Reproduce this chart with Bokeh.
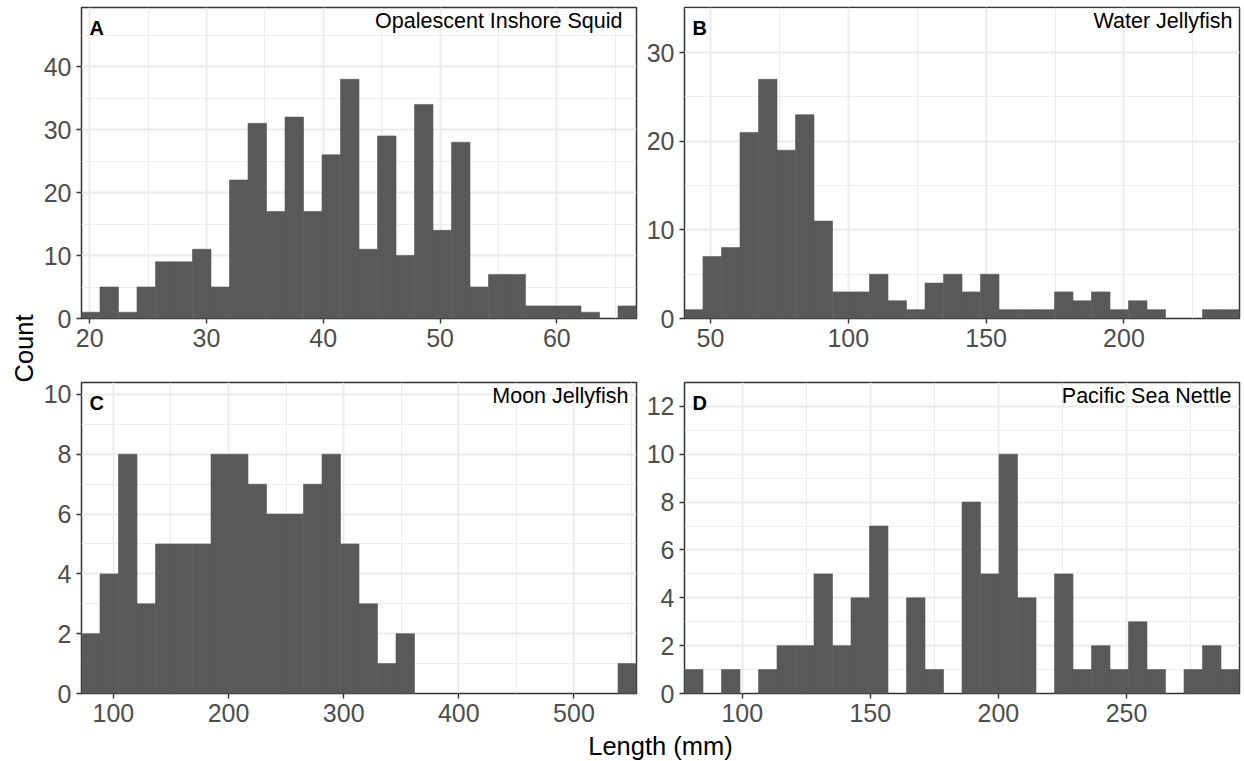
import numpy as np
from math import pi
from bokeh.plotting import figure
from bokeh.layouts import row, column
from bokeh.models import Range1d, FixedTicker, Label
from bokeh.embed import file_html
from bokeh.resources import INLINE

# ---------------- data ----------------
squid_counts = [1, 5, 1, 5, 9, 9, 11, 5, 22, 31, 17, 32, 17, 26, 38,
                11, 29, 10, 34, 14, 28, 5, 7, 7, 2, 2, 2, 1, 0, 2]
squid_range = (19.30, 66.82)

water_counts = [1, 7, 8, 21, 27, 19, 23, 11, 3, 3, 5, 2, 1, 4, 5,
                3, 5, 1, 1, 1, 3, 2, 3, 1, 2, 1, 0, 0, 1, 1]
water_range = (40.6, 241.9)

moon_counts = [2, 4, 8, 3, 5, 5, 5, 8, 8, 7, 6, 6, 7, 8, 5,
               3, 1, 2, 0, 0, 0, 0, 0, 0, 0, 0, 0, 0, 0, 1]
moon_range = (72.3, 554.3)

nettle_counts = [1, 0, 1, 0, 1, 2, 2, 5, 2, 4, 7, 0, 4, 1, 0,
                 8, 5, 10, 4, 0, 5, 1, 2, 1, 3, 1, 0, 1, 2, 1]
nettle_range = (77.46, 294.1)

panel_letters = ["A", "B", "C", "D"]
panel_titles = ["Opalescent Inshore Squid", "Water Jellyfish",
                "Moon Jellyfish", "Pacific Sea Nettle"]

x_major = [[20, 30, 40, 50, 60], [50, 100, 150, 200],
           [100, 200, 300, 400, 500], [100, 150, 200, 250]]
x_minor = [[25, 35, 45, 55, 65], [75, 125, 175, 225],
           [150, 250, 350, 450, 550], [125, 175, 225, 275]]
y_major = [[0, 10, 20, 30, 40], [0, 10, 20, 30],
           [0, 2, 4, 6, 8, 10], [0, 2, 4, 6, 8, 10, 12]]
y_minor = [[5, 15, 25, 35, 45], [5, 15, 25, 35],
           [1, 3, 5, 7, 9], [1, 3, 5, 7, 9, 11, 13]]

FONT = "Liberation Sans"
BAR = "#595959"
GRID = "#EBEBEB"
BORDER = "#333333"

title_inset = [14, 7, 8, 8]


def panel(counts, xr, idx, width, height, bl, br, bt, bb):
    counts = np.array(counts, dtype=float)
    edges = np.linspace(xr[0], xr[1], len(counts) + 1)
    ymax = counts.max() * 1.3
    nz = counts > 0
    p = figure(width=width, height=height, output_backend="svg",
               toolbar_location=None,
               x_range=Range1d(xr[0], xr[1]), y_range=Range1d(0, ymax),
               min_border_left=bl, min_border_right=br,
               min_border_top=bt, min_border_bottom=bb)
    p.quad(left=edges[:-1][nz], right=edges[1:][nz], bottom=0,
           top=counts[nz], fill_color=BAR, line_color=BAR, line_width=0.6)
    xt = FixedTicker(ticks=x_major[idx], minor_ticks=x_minor[idx])
    yt = FixedTicker(ticks=y_major[idx], minor_ticks=y_minor[idx])
    p.xaxis.ticker = xt
    p.yaxis.ticker = yt
    p.xgrid.ticker = xt
    p.ygrid.ticker = yt
    for g in (p.xgrid, p.ygrid):
        g.grid_line_color = GRID
        g.grid_line_width = 1.8
        g.minor_grid_line_color = GRID
        g.minor_grid_line_width = 0.9
    for ax in (p.xaxis, p.yaxis):
        ax.axis_line_color = None
        ax.major_tick_line_color = BORDER
        ax.major_tick_line_width = 1.4
        ax.major_tick_out = 5
        ax.major_tick_in = 0
        ax.minor_tick_line_color = None
        ax.major_label_text_font = FONT
        ax.major_label_text_font_size = "25px"
        ax.major_label_text_color = "#4D4D4D"
    p.xaxis.major_label_standoff = 5
    p.yaxis.major_label_standoff = 5
    p.outline_line_color = BORDER
    p.outline_line_width = 1.5
    p.background_fill_color = "white"
    p.border_fill_color = "white"
    p.add_layout(Label(x=xr[0], y=ymax, x_offset=8, y_offset=-20.5,
                       text=panel_letters[idx], text_font=FONT,
                       text_font_size="20px", text_font_style="bold",
                       text_color="black", text_align="left",
                       text_baseline="middle"))
    p.add_layout(Label(x=xr[1], y=ymax, x_offset=-title_inset[idx],
                       y_offset=-13,
                       text=panel_titles[idx], text_font=FONT,
                       text_font_size="21.5px", text_color="black",
                       text_align="right", text_baseline="middle"))
    return p


pA = panel(squid_counts, squid_range, 0, 600, 370, 40, 4, 7, 52)
pB = panel(water_counts, water_range, 1, 604, 370, 44, 5, 7, 52)
pC = panel(moon_counts, moon_range, 2, 600, 363, 40, 4, 12, 40)
pD = panel(nettle_counts, nettle_range, 3, 604, 363, 44, 5, 12, 40)


def blank(w, h):
    f = figure(width=w, height=h, output_backend="svg", toolbar_location=None,
               x_range=Range1d(0, w), y_range=Range1d(0, h), min_border=0)
    f.axis.visible = False
    f.grid.visible = False
    f.outline_line_color = None
    return f


count_fig = blank(40, 761)
count_fig.add_layout(Label(x=23, y=413, text="Count", angle=pi / 2,
                           text_font=FONT, text_font_size="25.5px",
                           text_color="black", text_align="center",
                           text_baseline="middle"))

len_fig = blank(1204, 28)
len_fig.add_layout(Label(x=620, y=16, text="Length (mm)",
                         text_font=FONT, text_font_size="25.5px",
                         text_color="black", text_align="center",
                         text_baseline="middle"))

layout = row(count_fig, column(row(pA, pB), row(pC, pD), len_fig))

open("out.html", "w").write(file_html(layout, INLINE))
